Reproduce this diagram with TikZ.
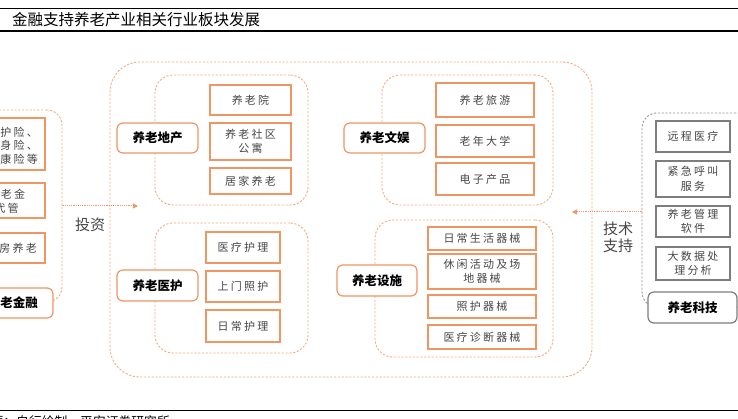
\documentclass[tikz,border=0pt]{standalone}
\usepackage{fontspec}
\usetikzlibrary{arrows.meta}
\newfontfamily\cjk{Noto Sans CJK SC}
\newfontfamily\cjkls[LetterSpace=20]{Noto Sans CJK SC}
\definecolor{org}{RGB}{238,150,100}
\definecolor{orgd}{RGB}{243,170,125}
\definecolor{gry}{RGB}{125,125,125}
\definecolor{txt}{RGB}{70,70,70}
\tikzset{
 cont/.style={draw=orgd, line width=0.9pt, dash pattern=on 2.2pt off 1.6pt, rounded corners=18pt, inner sep=0pt},
 itembox/.style={draw=org, line width=1.4pt, fill=white, inner sep=0pt, align=center, font=\cjkls\fontsize{11}{14.5}\selectfont, text=txt},
 lbox/.style={draw=org, line width=1.2pt, fill=white, rounded corners=6pt, inner sep=0pt, font=\cjk\bfseries\fontsize{12.5}{15}\selectfont, text=black},
 titem/.style={itembox, draw=gry, line width=1.2pt},
 plain/.style={inner sep=0pt, align=center},
 side/.style={plain, font=\cjk\fontsize{15}{17}\selectfont, text=txt},
 conn/.style={draw=org, line width=1pt, dash pattern=on 1.2pt off 1pt, -{Triangle[length=5pt,width=5pt]}},
}
\begin{document}
\begin{tikzpicture}[x=1pt,y=-1pt]
\useasboundingbox (0,0) rectangle (738,419);
% header / footer rules
\draw[line width=1.3pt] (0,8.5) -- (738,8.5);
\draw[line width=1.3pt] (0,31) -- (738,31);
\draw[line width=1.1pt] (0,410.5) -- (738,410.5);
\node[plain, anchor=west, font=\cjk\fontsize{15.5}{18}\selectfont] (title) at (12,20) {金融支持养老产业相关行业板块发展};
\node[plain, anchor=west, font=\cjk\fontsize{12.8}{15}\selectfont] (src) at (-9.6,421.5) {源：自行绘制，平安证券研究所};

% big container
\node[cont, rounded corners=30pt, minimum width=482, minimum height=315] (big) at (351,219.5) {};

% finance (left)
\node[cont, rounded corners=15pt, minimum width=82, minimum height=192] (fin) at (21,206) {};
\node[itembox, minimum width=75, minimum height=52] (f1) at (7.5,144) {};
\node[plain, anchor=east, align=right, font=\cjkls\fontsize{11}{13.5}\selectfont, text=txt] (f1t) at (38,145.5) {护险、\\身险、\\康险等};
\node[itembox, minimum width=75, minimum height=35] (f2) at (7.5,200.5) {};
\node[plain, font=\cjkls\fontsize{11}{14}\selectfont, text=txt] (f2t) at (6.5,201) {养老金\\代管};
\node[itembox, minimum width=75, minimum height=30] (f3) at (7.5,248) {};
\node[plain, anchor=east, font=\cjkls\fontsize{11}{14}\selectfont, text=txt] (f3t) at (37,248.5) {房养老};
\node[lbox, minimum width=93, minimum height=30] (f4) at (6.5,303) {};
\node[plain, anchor=east, font=\cjk\bfseries\fontsize{12.5}{15}\selectfont] (f4t) at (38,303) {老金融};

% group 1
\node[cont, minimum width=153, minimum height=130] (g1) at (231.5,140) {};
\node[lbox, minimum width=81, minimum height=30] (g1l) at (157.5,138) {养老地产};
\node[itembox, minimum width=81, minimum height=30] (g1a) at (250.5,100) {养老院};
\node[itembox, minimum width=81, minimum height=37] (g1b) at (250.5,141.5) {养老社区\\公寓};
\node[itembox, minimum width=81, minimum height=26] (g1c) at (250.5,181) {居家养老};

% group 2
\node[cont, minimum width=153, minimum height=130] (g2) at (231.5,288) {};
\node[lbox, minimum width=81, minimum height=31] (g2l) at (157.5,285.5) {养老医护};
\node[itembox, minimum width=74, minimum height=31] (g2a) at (243,247.5) {医疗护理};
\node[itembox, minimum width=74, minimum height=31] (g2b) at (243,286.5) {上门照护};
\node[itembox, minimum width=74, minimum height=32] (g2c) at (243,326) {日常护理};

% group 3
\node[cont, minimum width=171, minimum height=130] (g3) at (467.5,140) {};
\node[lbox, minimum width=81, minimum height=30] (g3l) at (384.5,138) {养老文娱};
\node[itembox, minimum width=98, minimum height=34] (g3a) at (485,100) {养老旅游};
\node[itembox, minimum width=98, minimum height=32] (g3b) at (485,141) {老年大学};
\node[itembox, minimum width=98, minimum height=32] (g3c) at (485,179) {电子产品};

% group 4
\node[cont, minimum width=178, minimum height=137] (g4) at (464,288.5) {};
\node[lbox, minimum width=80, minimum height=31] (g4l) at (377,280.5) {养老设施};
\node[itembox, minimum width=108, minimum height=23] (g4a) at (482,238.5) {日常生活器械};
\node[itembox, minimum width=108, minimum height=35] (g4b) at (482,271.5) {休闲活动及场\\地器械};
\node[itembox, minimum width=108, minimum height=23] (g4c) at (482,306.5) {照护器械};
\node[itembox, minimum width=108, minimum height=24] (g4d) at (482,337) {医疗诊断器械};

% tech (right)
\node[cont, draw=gry!80, rounded corners=15pt, minimum width=128, minimum height=194] (tech) at (706,210) {};
\node[titem, minimum width=74, minimum height=31] (t1) at (693,136.5) {远程医疗};
\node[titem, minimum width=74, minimum height=36] (t2) at (693,179) {紧急呼叫\\服务};
\node[titem, minimum width=74, minimum height=31] (t3) at (693,221.5) {养老管理\\软件};
\node[titem, minimum width=74, minimum height=33] (t4) at (693,263.5) {大数据处\\理分析};
\node[lbox, draw=gry, minimum width=89, minimum height=31] (t5) at (692.5,307.5) {养老科技};

% connectors
\coordinate (invEnd) at (138,206);
\coordinate (techEnd) at (572,212);
\draw[conn] (fin.east |- invEnd) -- (invEnd);
\draw[conn] (tech.west |- techEnd) -- (techEnd);
\node[side] (inv) at (90,225) {投资};
\node[side] (tsup) at (618,237) {技术\\支持};
\end{tikzpicture}
\end{document}
